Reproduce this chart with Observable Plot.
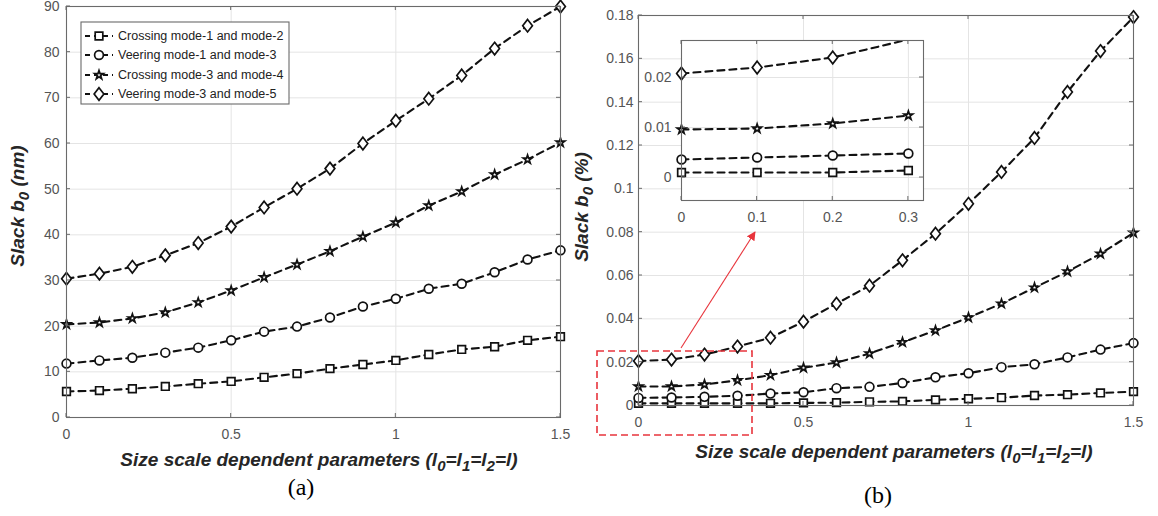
<!DOCTYPE html>
<html>
<head>
<meta charset="utf-8">
<script src="https://cdn.jsdelivr.net/npm/d3@7"></script>
<script src="https://cdn.jsdelivr.net/npm/@observablehq/plot@0.6"></script>
<style>
  html, body { margin: 0; padding: 0; background: #fff; }
  body { width: 1158px; height: 516px; position: relative; overflow: hidden; font-family: "Liberation Sans", Arial, sans-serif; }
  .panel { position: absolute; top: 0; }
  .panel svg { overflow: visible; }
  .cap { position: absolute; font-family: "Liberation Serif", "Times New Roman", serif; font-size: 24px; color: #000; transform: translate(-50%, -50%); white-space: nowrap; }
</style>
</head>
<body>
<div class="panel" id="pa" style="left:0px"></div>
<div class="panel" id="pb" style="left:570px"></div>
<div class="panel" id="pin" style="left:620px; top:30px"></div>
<div class="cap" style="left:301px; top:487px">(a)</div>
<div class="cap" style="left:878px; top:495px">(b)</div>
<script>
// ---------------- data ----------------
const xs = [0, 0.1, 0.2, 0.3, 0.4, 0.5, 0.6, 0.7, 0.8, 0.9, 1.0, 1.1, 1.2, 1.3, 1.4, 1.5];
const seriesNames = [
  "Crossing mode-1 and mode-2",
  "Veering mode-1 and mode-3",
  "Crossing mode-3 and mode-4",
  "Veering mode-3 and mode-5"
];
const seriesSymbolNames = ["square", "circle", "star", "diamond"];

// panel (a): slack b0 in nm
const aCross12 = [5.7, 5.9, 6.3, 6.8, 7.4, 7.9, 8.8, 9.6, 10.7, 11.6, 12.5, 13.8, 14.9, 15.5, 16.9, 17.7];
const aVeer13  = [11.8, 12.5, 13.1, 14.2, 15.3, 16.9, 18.8, 19.9, 21.9, 24.3, 26.0, 28.2, 29.3, 31.8, 34.6, 36.6];
const aCross34 = [20.4, 20.8, 21.7, 23.0, 25.2, 27.8, 30.7, 33.5, 36.4, 39.6, 42.7, 46.4, 49.5, 53.2, 56.5, 60.2];
const aVeer35  = [30.4, 31.5, 33.0, 35.5, 38.2, 41.8, 46.0, 50.1, 54.5, 60.0, 65.0, 69.8, 74.9, 80.8, 85.8, 90.0];

// panel (b): slack b0 in %
const bCross12 = [0.0010, 0.0010, 0.0010, 0.0010, 0.0010, 0.0012, 0.0013, 0.0017, 0.0019, 0.0026, 0.0031, 0.0036, 0.0046, 0.0050, 0.0058, 0.0064];
const bVeer13  = [0.0035, 0.0037, 0.0040, 0.0045, 0.0055, 0.0061, 0.0080, 0.0086, 0.0104, 0.0130, 0.0149, 0.0177, 0.0190, 0.0222, 0.0258, 0.0288];
const bCross34 = [0.0088, 0.0088, 0.0097, 0.0116, 0.0140, 0.0174, 0.0198, 0.0240, 0.0292, 0.0346, 0.0406, 0.0470, 0.0544, 0.0618, 0.0700, 0.0797];
const bVeer35  = [0.0205, 0.0212, 0.0235, 0.0272, 0.0313, 0.0387, 0.0470, 0.0553, 0.0670, 0.0793, 0.0931, 0.1078, 0.1235, 0.1447, 0.1636, 0.1793];

// inset of (b): zoom on l = 0 .. 0.3
const insetX = [0, 0.1, 0.2, 0.3];
const iCross12 = [0.0010, 0.0010, 0.0010, 0.0014];
const iVeer13  = [0.0036, 0.0040, 0.0044, 0.0048];
const iCross34 = [0.0096, 0.0098, 0.0108, 0.0124];
const iVeer35  = [0.0208, 0.0220, 0.0240, 0.0276];

// ticks
const mainXTicks = [0, 0.5, 1, 1.5];
const aYTicks = [0, 10, 20, 30, 40, 50, 60, 70, 80, 90];
const bYTicks = [0, 0.02, 0.04, 0.06, 0.08, 0.1, 0.12, 0.14, 0.16, 0.18];
const insetXTicks = [0, 0.1, 0.2, 0.3];
const insetYTicks = [0, 0.01, 0.02];

// titles (text parts, true = subscript)
const xTitleParts = [["Size scale dependent parameters (l", false], ["0", true], ["=l", false], ["1", true], ["=l", false], ["2", true], ["=l)", false]];
const aYTitleParts = [["Slack b", false], ["0", true], [" (nm)", false]];
const bYTitleParts = [["Slack b", false], ["0", true], [" (%)", false]];

// ---------------- style ----------------
const FONT = "'Liberation Sans', Arial, sans-serif";
const GRID = "#e4e4e4";
const AXIS = "#6a6a6a";
const TICKC = "#555";
const LINEC = "#111";
const fmt = d3.format("~g");

// MATLAB-like diamond: a bit narrower than tall
const matDiamond = {
  draw(ctx, size) {
    const h = Math.sqrt(size / 1.56), w = 0.78 * h;
    ctx.moveTo(0, -h); ctx.lineTo(w, 0); ctx.lineTo(0, h); ctx.lineTo(-w, 0); ctx.closePath();
  }
};
const symbolObjs = {square: d3.symbolSquare, circle: d3.symbolCircle, star: d3.symbolStar, diamond: matDiamond};
const symbolR = {square: 4.3, circle: 4.4, star: 2.7, diamond: 4.4};
const seriesSymbols = seriesSymbolNames.map(n => symbolObjs[n]);

function rowsOf(x, arrays) {
  return arrays.flatMap((arr, i) => arr.map((v, j) => ({x: x[j], y: v, s: seriesNames[i], k: seriesSymbolNames[i]})));
}

function makePanel(o) {
  const dotMarks = seriesSymbolNames.map(k =>
    Plot.dot(o.rows, {filter: d => d.k === k && d.y <= o.yDomain[1], x: "x", y: "y", symbol: "s",
      stroke: LINEC, fill: "white", strokeWidth: 1.7, r: symbolR[k]})
  );
  const plot = Plot.plot({
    width: o.width, height: o.height,
    marginLeft: o.ml, marginRight: o.mr, marginTop: o.mt, marginBottom: o.mb,
    x: {domain: o.xDomain},
    y: {domain: o.yDomain},
    symbol: {domain: seriesNames, range: seriesSymbols},
    style: {background: "transparent", fontFamily: FONT, overflow: "visible"},
    marks: [
      o.whiteBg ? Plot.frame({fill: "white", stroke: "none"}) : null,
      Plot.gridX(o.xTicks, {stroke: GRID, strokeOpacity: 1, strokeWidth: 1}),
      Plot.gridY(o.yTicks, {stroke: GRID, strokeOpacity: 1, strokeWidth: 1}),
      Plot.line(o.rows, {x: "x", y: "y", z: "s", stroke: LINEC, strokeWidth: 2.1, strokeDasharray: "7,5", clip: true}),
      ...dotMarks,
      Plot.frame({stroke: AXIS, strokeWidth: 1.1}),
      Plot.axisX(o.xTicks, {tickSize: 0, tickPadding: o.xPad, tickFormat: fmt, fontSize: 14, fill: TICKC, label: null}),
      Plot.axisY(o.yTicks, {tickSize: 0, tickPadding: o.yPad, tickFormat: fmt, fontSize: 14, fill: TICKC, label: null})
    ]
  });
  const svg = d3.select(plot);
  // MATLAB-style inward ticks on all four sides
  const xs_ = plot.scale("x"), ys_ = plot.scale("y");
  const [x0, x1] = xs_.range, [y0, y1] = ys_.range;
  const g = svg.append("g").attr("stroke", AXIS).attr("stroke-width", 1);
  const L = 4;
  o.xTicks.forEach(t => {
    const px = xs_.apply(t);
    g.append("line").attr("x1", px).attr("x2", px).attr("y1", y0).attr("y2", y0 - L);
    g.append("line").attr("x1", px).attr("x2", px).attr("y1", y1).attr("y2", y1 + L);
  });
  o.yTicks.forEach(t => {
    const py = ys_.apply(t);
    g.append("line").attr("y1", py).attr("y2", py).attr("x1", x0).attr("x2", x0 + L);
    g.append("line").attr("y1", py).attr("y2", py).attr("x1", x1).attr("x2", x1 - L);
  });
  return plot;
}

function addTitle(svg, parts, x, y, rotate) {
  const t = svg.append("text")
    .attr("transform", `translate(${x},${y})` + (rotate ? " rotate(-90)" : ""))
    .attr("text-anchor", "middle")
    .attr("font-family", FONT)
    .attr("font-size", 19)
    .attr("font-weight", "bold")
    .attr("font-style", "italic")
    .attr("fill", "#262626");
  let shifted = false;
  parts.forEach(([txt, sub]) => {
    const s = t.append("tspan").text(txt);
    if (sub && !shifted) { s.attr("dy", 5).attr("font-size", 15); shifted = true; }
    else if (sub) { s.attr("font-size", 15); }
    else if (shifted) { s.attr("dy", -5); shifted = false; }
  });
}

// ---------------- panel (a) ----------------
const plotA = makePanel({
  rows: rowsOf(xs, [aCross12, aVeer13, aCross34, aVeer35]),
  width: 580, height: 480, ml: 66, mr: 20, mt: 6, mb: 63,
  xDomain: [0, 1.5], yDomain: [0, 90],
  xTicks: mainXTicks, yTicks: aYTicks, xPad: 12, yPad: 7
});
const svgA = d3.select(plotA);
addTitle(svgA, aYTitleParts, 24, 206, true);
addTitle(svgA, xTitleParts, 319, 466, false);

// legend
const leg = svgA.append("g");
leg.append("rect").attr("x", 81).attr("y", 22).attr("width", 208).attr("height", 82)
  .attr("fill", "white").attr("stroke", AXIS).attr("stroke-width", 1.1);
const legY = [36, 55, 75, 94];
seriesNames.forEach((name, i) => {
  const y = legY[i];
  const k = seriesSymbolNames[i];
  leg.append("line").attr("x1", 85).attr("x2", 113).attr("y1", y).attr("y2", y)
    .attr("stroke", LINEC).attr("stroke-width", 2.1).attr("stroke-dasharray", "5,4");
  leg.append("path").attr("d", d3.symbol(symbolObjs[k], Math.PI * symbolR[k] * symbolR[k])())
    .attr("transform", `translate(99,${y})`).attr("fill", "white").attr("stroke", LINEC).attr("stroke-width", 1.7);
  leg.append("text").attr("x", 118).attr("y", y).attr("dy", "0.35em")
    .attr("text-anchor", "start")
    .attr("font-family", FONT).attr("font-size", 12.5).attr("fill", "#222").text(name);
});
document.getElementById("pa").appendChild(plotA);

// ---------------- panel (b) ----------------
const plotB = makePanel({
  rows: rowsOf(xs, [bCross12, bVeer13, bCross34, bVeer35]),
  width: 588, height: 480, ml: 68, mr: 25, mt: 15, mb: 75,
  xDomain: [0, 1.5], yDomain: [0, 0.18],
  xTicks: mainXTicks, yTicks: bYTicks, xPad: 12, yPad: 5
});
const svgB = d3.select(plotB);
addTitle(svgB, bYTitleParts, 18, 207, true);
addTitle(svgB, xTitleParts, 324, 458, false);
// zoom box and arrow
const RED = "#e8343c";
svgB.append("rect").attr("x", 27).attr("y", 351).attr("width", 155).attr("height", 84)
  .attr("fill", "none").attr("stroke", RED).attr("stroke-width", 1.6).attr("stroke-dasharray", "7,4");
svgB.append("defs").append("marker").attr("id", "ah").attr("viewBox", "0 0 10 10")
  .attr("refX", 9).attr("refY", 5).attr("markerWidth", 9).attr("markerHeight", 9)
  .attr("markerUnits", "userSpaceOnUse").attr("orient", "auto")
  .append("path").attr("d", "M0,0 L10,5 L0,10 Z").attr("fill", RED);
svgB.append("line").attr("x1", 111).attr("y1", 348).attr("x2", 185).attr("y2", 232)
  .attr("stroke", RED).attr("stroke-width", 1.1).attr("marker-end", "url(#ah)");
document.getElementById("pb").appendChild(plotB);

// ---------------- inset ----------------
const plotI = makePanel({
  rows: rowsOf(insetX, [iCross12, iVeer13, iCross34, iVeer35]),
  width: 320, height: 200, ml: 61, mr: 17, mt: 10, mb: 30,
  xDomain: [0, 0.32], yDomain: [-0.0046, 0.0274],
  xTicks: insetXTicks, yTicks: insetYTicks, xPad: 12, yPad: 10, whiteBg: true
});
document.getElementById("pin").appendChild(plotI);
</script>
</body>
</html>
